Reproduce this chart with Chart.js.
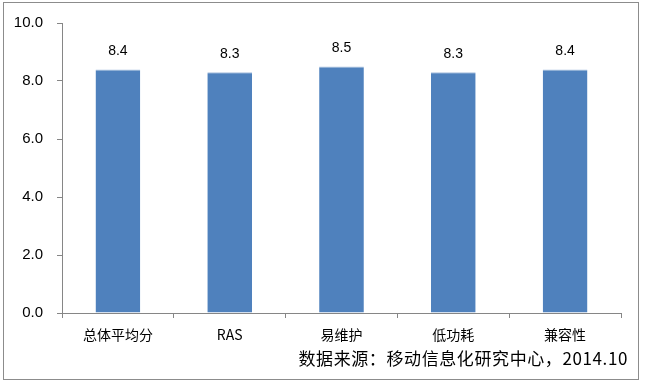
<!DOCTYPE html>
<html>
<head>
<meta charset="utf-8">
<script src="https://cdn.jsdelivr.net/npm/chart.js@4/dist/chart.umd.min.js"></script>
<style>
  body { margin: 0; background: #fff; }
  #wrap { position: relative; width: 645px; height: 384px; }
  #frame {
    position: absolute; left: 3px; top: 2px; width: 634px; height: 376px;
    border: 1px solid #8c8c8c; box-sizing: content-box; pointer-events: none;
  }
  #source {
    position: absolute; right: 17px; top: 345px; letter-spacing: 0.6px;
    font: 17px "Noto Sans CJK SC", sans-serif; color: #000; white-space: nowrap;
  }
</style>
</head>
<body>
<div id="wrap">
  <canvas id="barChart" width="645" height="384"></canvas>
  <div id="frame"></div>
  <div id="source">数据来源：移动信息化研究中心，2014.10</div>
</div>
<script>
// chart data
const categories = ['总体平均分', 'RAS', '易维护', '低功耗', '兼容性'];
const scores = [8.4, 8.3, 8.5, 8.3, 8.4];
const yTicks = [0, 2, 4, 6, 8, 10];

const fontFamily = '"Liberation Sans", "Noto Sans CJK SC", sans-serif';

// draws the value above each bar
const valueLabels = {
  id: 'valueLabels',
  afterDatasetsDraw(chart) {
    const ctx = chart.ctx;
    const meta = chart.getDatasetMeta(0);
    ctx.save();
    ctx.font = '14px ' + fontFamily;
    ctx.fillStyle = '#000';
    ctx.textAlign = 'center';
    ctx.textBaseline = 'bottom';
    meta.data.forEach((bar, i) => {
      ctx.fillText(scores[i].toFixed(1), bar.x, bar.y - 11);
    });
    ctx.restore();
  }
};

new Chart(document.getElementById('barChart'), {
  type: 'bar',
  data: {
    labels: categories,
    datasets: [{
      data: scores,
      backgroundColor: '#4f81bd',
      borderColor: '#a9c0de',
      borderWidth: { top: 1, left: 0, right: 0, bottom: 0 },
      barPercentage: 0.4,
      categoryPercentage: 1.0
    }]
  },
  options: {
    responsive: false,
    animation: false,
    layout: { padding: { left: 0, top: 13, right: 24, bottom: 0 } },
    scales: {
      y: {
        min: 0,
        max: 10,
        afterFit: (scale) => { scale.width = 62; },
        afterBuildTicks: (scale) => { scale.ticks = yTicks.map(v => ({ value: v })); },
        ticks: {
          padding: 14,
          color: '#000',
          font: { size: 15, family: fontFamily },
          callback: (v) => Number(v).toFixed(1)
        },
        grid: { drawOnChartArea: false, tickLength: 5, color: '#868686' },
        border: { color: '#868686' }
      },
      x: {
        afterFit: (scale) => { scale.height = 71; },
        ticks: {
          padding: 8,
          color: '#000',
          font: { size: 14, family: '"Noto Sans CJK SC", sans-serif' }
        },
        grid: { offset: true, drawOnChartArea: false, tickLength: 5, color: '#868686' },
        border: { color: '#868686' }
      }
    },
    plugins: {
      legend: { display: false },
      tooltip: { enabled: false }
    }
  },
  plugins: [valueLabels]
});
</script>
</body>
</html>
